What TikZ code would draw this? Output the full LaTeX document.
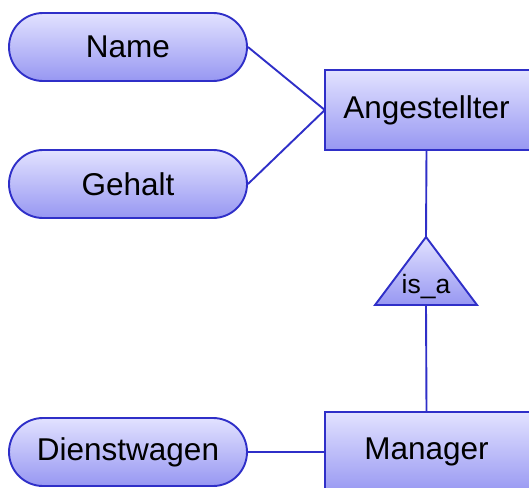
\documentclass[tikz,border=0pt]{standalone}
\usepackage{fontspec}
\setmainfont{Liberation Sans}
\begin{document}
\begin{tikzpicture}[x=1pt,y=-1pt,
  edge/.style={draw=erblue,line width=1.9pt},
  attr/.style={draw=erblue,line width=1.9pt,top color=ertop,bottom color=erbot,
    minimum width=238pt,minimum height=68pt,rounded corners=34pt,inner sep=0pt,
    font=\fontsize{31.5}{36}\selectfont},
  entity/.style={draw=erblue,line width=1.9pt,top color=ertop,bottom color=erbot,
    inner sep=0pt,font=\fontsize{31.5}{36}\selectfont}]
\definecolor{erblue}{HTML}{2F2FC8}
\definecolor{ertop}{HTML}{E2E2FF}
\definecolor{erbot}{HTML}{9797F2}
\useasboundingbox (0,0) rectangle (529,487);
% attributes
\node[attr] (name) at (128,47) {Name};
\node[attr] (gehalt) at (128,184) {Gehalt};
\node[attr] (dienst) at (128,452) {Dienstwagen};
% entities
\path[entity] (325,70) rectangle (532,150);
\node[font=\fontsize{31.5}{36}\selectfont,minimum width=203pt,minimum height=80pt,inner sep=0pt] (ang) at (426.5,110) {Angestellter};
\path[entity] (325,412) rectangle (532,494);
\node[font=\fontsize{31.5}{36}\selectfont,minimum width=203pt,minimum height=80pt,inner sep=0pt] (man) at (426.5,452) {Manager};
% is_a triangle
\coordinate (apex) at (426,237);
\coordinate (basel) at (375,305);
\coordinate (baser) at (477,305);
\coordinate (basem) at (426,305);
\path[entity] (apex) -- (baser) -- (basel) -- cycle;
\node[font=\fontsize{26.5}{30}\selectfont,inner sep=0pt] (isa) at (426,287) {is\_a};
% connectors
\draw[edge] (name.east) -- (ang.west);
\draw[edge] (gehalt.east) -- (ang.west);
\draw[edge] (dienst.east) -- (man.west);
\draw[edge] (ang.south) -- (apex);
\draw[edge] (basem) -- (man.north);
\end{tikzpicture}
\end{document}
